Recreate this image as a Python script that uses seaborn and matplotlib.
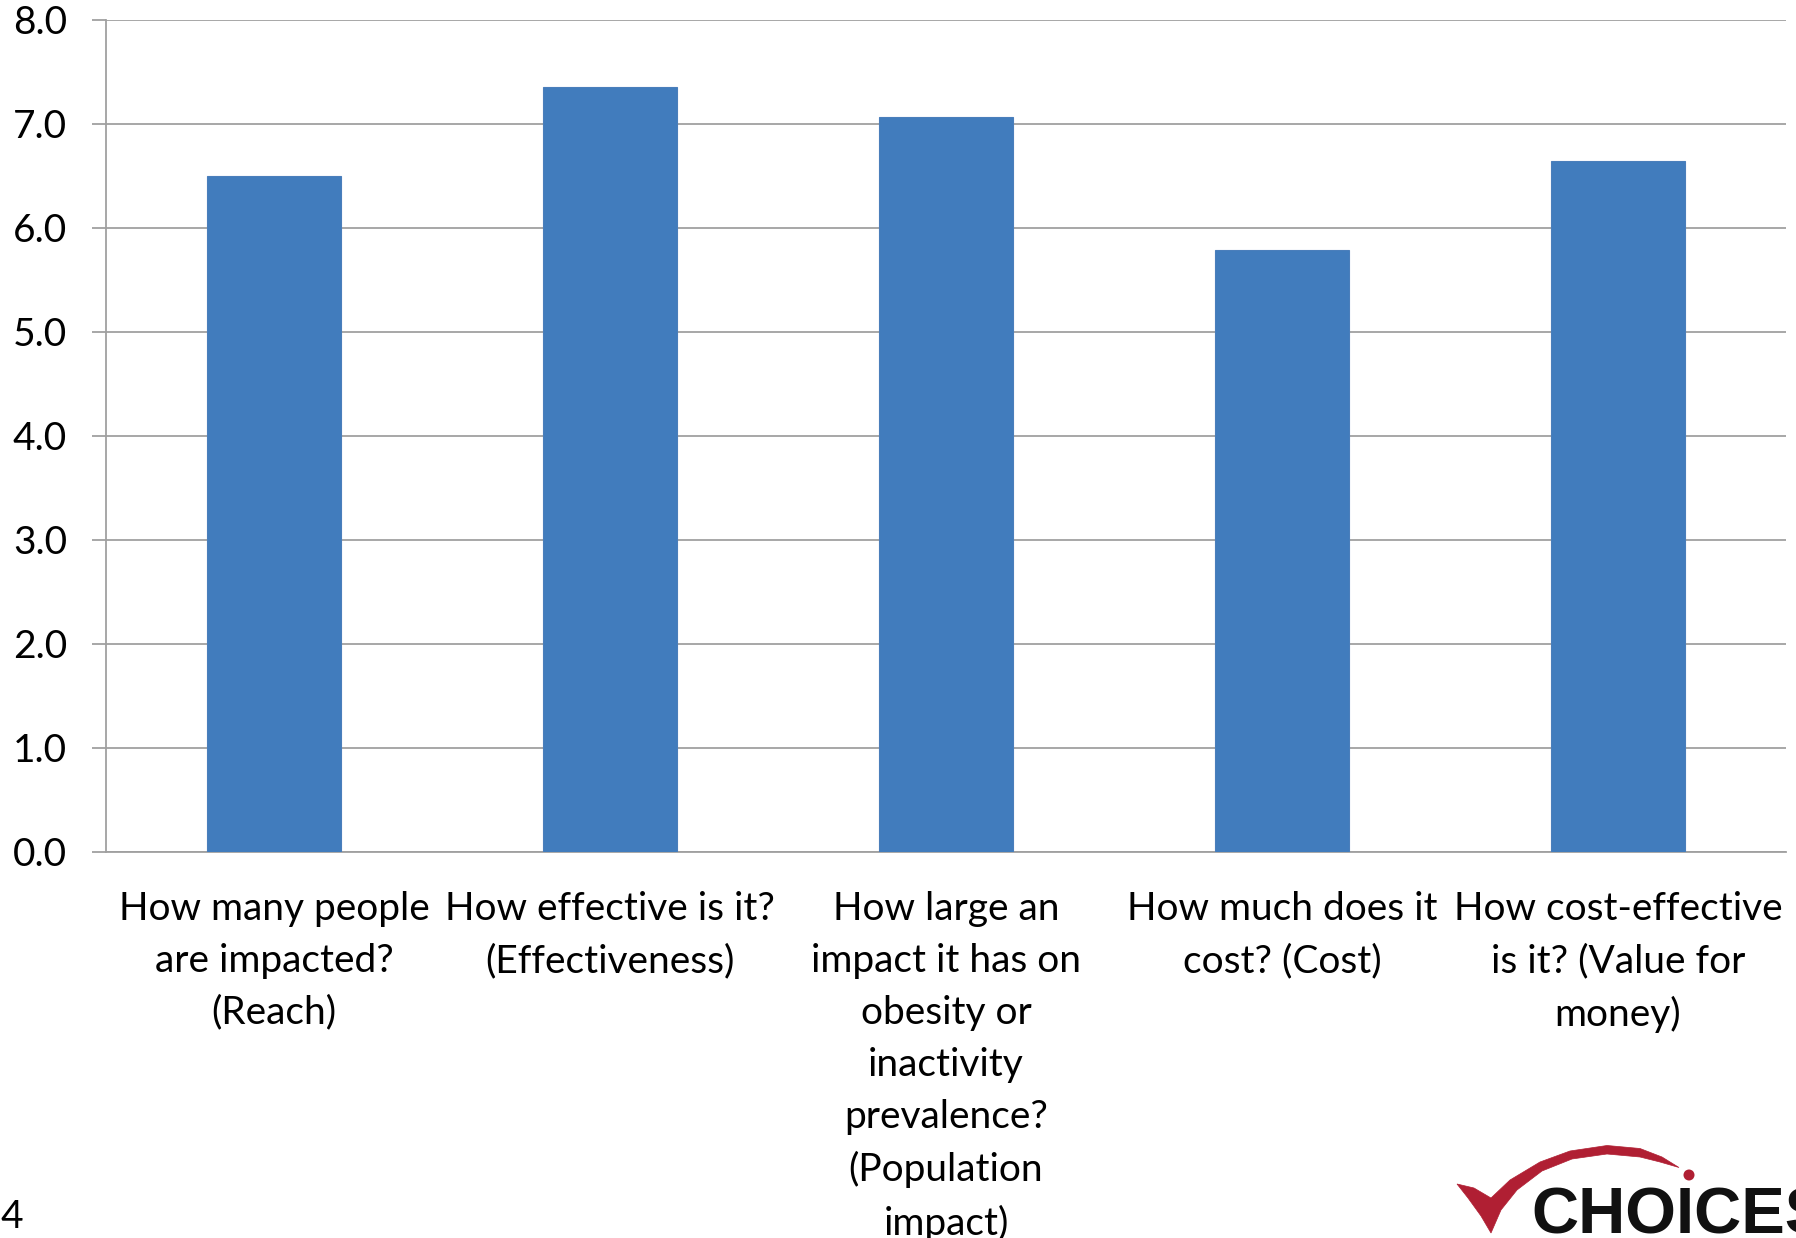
import matplotlib
matplotlib.use("Agg")
import matplotlib.pyplot as plt
from matplotlib.path import Path
from matplotlib.patches import PathPatch, Circle
import seaborn as sns
import pandas as pd

categories = [
    "How many people\nare impacted?\n(Reach)",
    "How effective is it?\n(Effectiveness)",
    "How large an\nimpact it has on\nobesity or\ninactivity\nprevalence?\n(Population\nimpact)",
    "How much does it\ncost? (Cost)",
    "How cost-effective\nis it? (Value for\nmoney)",
]
values = [6.50, 7.36, 7.07, 5.79, 6.64]
y_ticks = [0, 1, 2, 3, 4, 5, 6, 7, 8]

sns.set_theme(style="white")
plt.rcParams["font.family"] = ["Lato", "DejaVu Sans"]

W, H = 1796, 1238
fig = plt.figure(figsize=(W / 100, H / 100), dpi=100)
ax = fig.add_axes([106 / W, 1 - 852 / H, (1786 - 106) / W, (852 - 20) / H])

df = pd.DataFrame({"cat": categories, "val": values})
sns.barplot(data=df, x="cat", y="val", color="#417CBD", saturation=1,
            width=0.4, ax=ax, zorder=3, edgecolor="#4A7EBB", linewidth=0.8)

grid_c = "#A0A0A0"
ax.set_ylim(0, 8)
ax.set_xlim(-0.5, len(categories) - 0.5)
ax.set_yticks(y_ticks)
ax.set_yticklabels([f"{v:.1f}" for v in y_ticks])
ax.yaxis.grid(True, color=grid_c, linewidth=1.3, zorder=0)
ax.xaxis.grid(False)
ax.set_axisbelow(True)
ax.set_xlabel("")
ax.set_ylabel("")
for s in ["top", "right"]:
    ax.spines[s].set_visible(False)
for s in ["left", "bottom"]:
    ax.spines[s].set_color(grid_c)
    ax.spines[s].set_linewidth(1.3)

fs = 28
ax.set_xticks(range(len(categories)))
ax.set_xticklabels(categories, fontsize=fs, linespacing=1.55, color="black")
ax.set_xticks([i - 0.5 for i in range(len(categories) + 1)], minor=True)
ax.tick_params(axis="x", which="major", length=0, pad=28)
ax.tick_params(axis="x", which="minor", length=9.5, width=1.3, color=grid_c, direction="out")
ax.tick_params(axis="y", length=10, width=1.3, color=grid_c, pad=18, labelsize=fs,
               labelcolor="black", direction="out", left=True)
for t in ax.get_xticklabels():
    t.set_verticalalignment("top")
    t.set_horizontalalignment("center")

# page number
fig.text(0 / W, 1 - 1228 / H, "4", fontsize=fs, color="black", ha="left", va="baseline")

# logo overlay
lax = fig.add_axes([0, 0, 1, 1], zorder=5)
lax.set_xlim(0, W)
lax.set_ylim(H, 0)
lax.axis("off")
red = "#B01F33"
pts = [(1457, 1184), (1474, 1188), (1491, 1198),
       (1510, 1180), (1540, 1162), (1570, 1151), (1607, 1145.5), (1640, 1148.5), (1662, 1157), (1679, 1167.5),
       (1660, 1162), (1640, 1157), (1607, 1154), (1572, 1159), (1542, 1171), (1517, 1190), (1501, 1210), (1491, 1233),
       (1481, 1216), (1468, 1198), (1457, 1184)]
codes = [Path.MOVETO] + [Path.LINETO] * (len(pts) - 2) + [Path.CLOSEPOLY]
lax.add_patch(PathPatch(Path(pts, codes), facecolor=red, edgecolor=red, linewidth=0.5))
lax.add_patch(Circle((1689, 1175), 5.5, facecolor=red, edgecolor="none"))
lax.text(1531, 1234, "CHOICES", fontsize=47, fontweight="bold", color="#111111",
         family=["Liberation Sans", "DejaVu Sans"], ha="left", va="baseline")

fig.savefig("out.png", dpi=100)
